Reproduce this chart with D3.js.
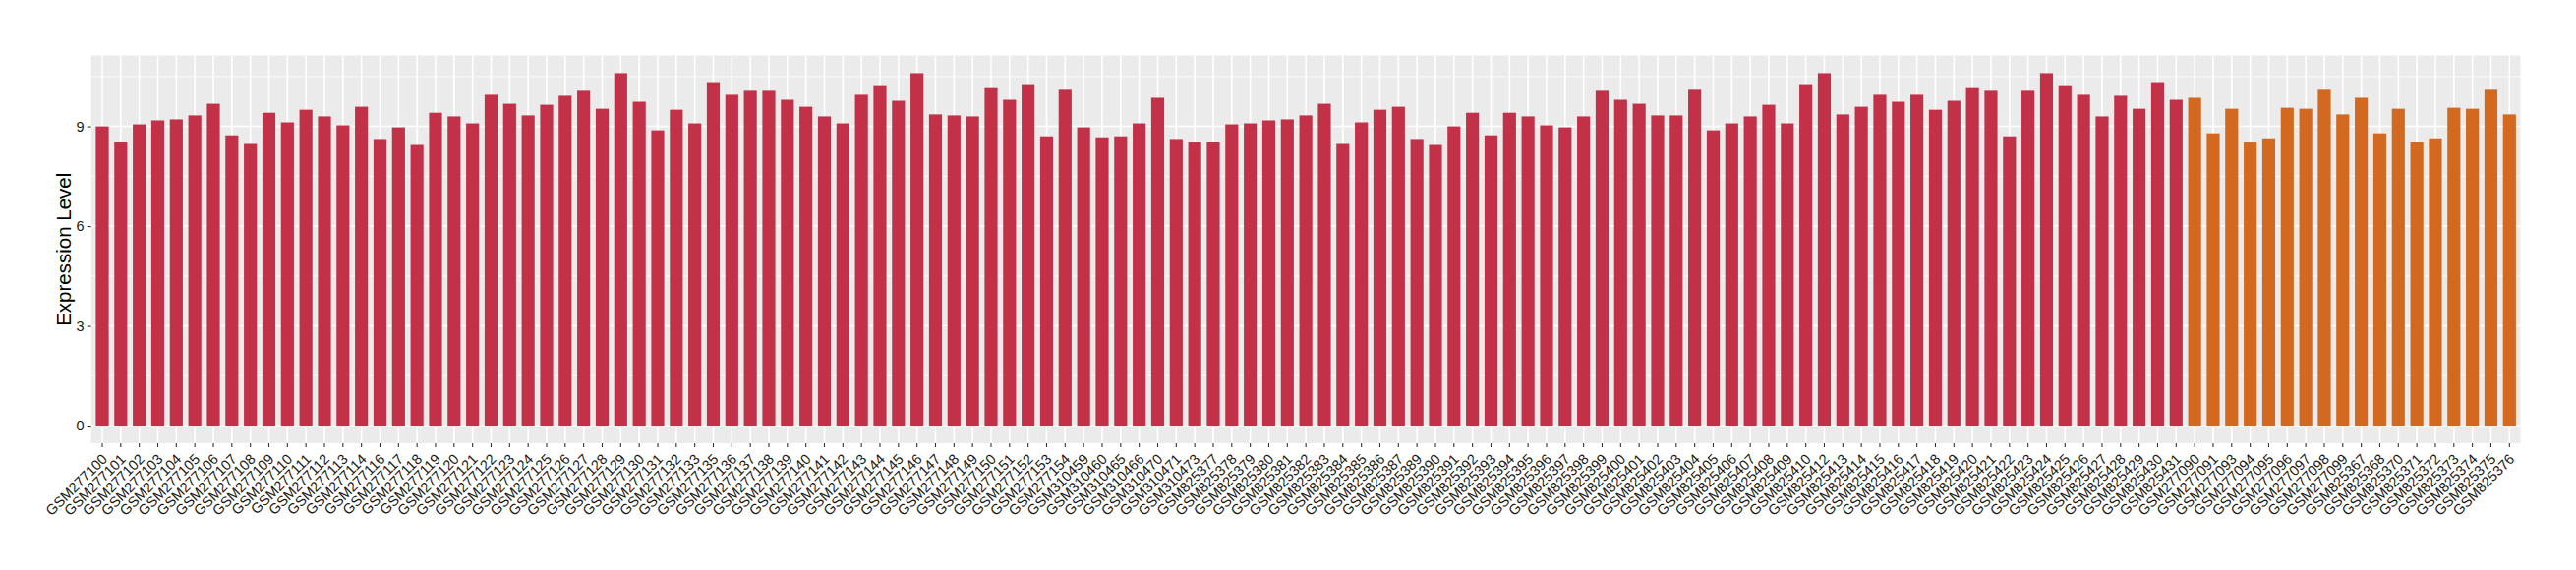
<!DOCTYPE html>
<html>
<head>
<meta charset="utf-8">
<script src="https://cdn.jsdelivr.net/npm/d3@7"></script>
<style>
  body { margin: 0; background: #fff; }
  #chart { width: 2620px; height: 580px; }
  text { font-family: "Liberation Sans", Arial, sans-serif; }
</style>
</head>
<body>
<div id="chart"></div>
<script>
// samples of the first group (red)
var groupASamples = [
	"GSM277100", "GSM277101", "GSM277102", "GSM277103", "GSM277104", "GSM277105", "GSM277106", "GSM277107",
	"GSM277108", "GSM277109", "GSM277110", "GSM277111", "GSM277112", "GSM277113", "GSM277114", "GSM277116",
	"GSM277117", "GSM277118", "GSM277119", "GSM277120", "GSM277121", "GSM277122", "GSM277123", "GSM277124",
	"GSM277125", "GSM277126", "GSM277127", "GSM277128", "GSM277129", "GSM277130", "GSM277131", "GSM277132",
	"GSM277133", "GSM277135", "GSM277136", "GSM277137", "GSM277138", "GSM277139", "GSM277140", "GSM277141",
	"GSM277142", "GSM277143", "GSM277144", "GSM277145", "GSM277146", "GSM277147", "GSM277148", "GSM277149",
	"GSM277150", "GSM277151", "GSM277152", "GSM277153", "GSM277154",
	"GSM310459", "GSM310460", "GSM310465", "GSM310466", "GSM310470", "GSM310471", "GSM310473",
	"GSM825377", "GSM825378", "GSM825379", "GSM825380", "GSM825381", "GSM825382", "GSM825383", "GSM825384",
	"GSM825385", "GSM825386", "GSM825387", "GSM825389", "GSM825390", "GSM825391", "GSM825392", "GSM825393",
	"GSM825394", "GSM825395", "GSM825396", "GSM825397", "GSM825398", "GSM825399", "GSM825400", "GSM825401",
	"GSM825402", "GSM825403", "GSM825404", "GSM825405", "GSM825406", "GSM825407", "GSM825408", "GSM825409",
	"GSM825410", "GSM825412", "GSM825413", "GSM825414", "GSM825415", "GSM825416", "GSM825417", "GSM825418",
	"GSM825419", "GSM825420", "GSM825421", "GSM825422", "GSM825423", "GSM825424", "GSM825425", "GSM825426",
	"GSM825427", "GSM825428", "GSM825429", "GSM825430", "GSM825431"
];
var groupAValues = [
	9.00, 8.53, 9.06, 9.18, 9.21, 9.33, 9.68, 8.73, 8.47, 9.41, 9.12, 9.50, 9.30, 9.03, 9.59, 8.62,
	8.97, 8.44, 9.41, 9.30, 9.09, 9.95, 9.68, 9.33, 9.65, 9.92, 10.07, 9.53, 10.60, 9.74, 8.88, 9.50,
	9.09, 10.33, 9.95, 10.07, 10.07, 9.80, 9.59, 9.30, 9.09, 9.95, 10.21, 9.77, 10.60, 9.36, 9.33, 9.30,
	10.15, 9.80, 10.27, 8.70, 10.10,
	8.97, 8.67, 8.70, 9.09, 9.86, 8.62, 8.53,
	8.53, 9.06, 9.09, 9.18, 9.21, 9.33, 9.68, 8.47, 9.12, 9.50, 9.59, 8.62, 8.44, 9.00, 9.41, 8.73,
	9.41, 9.30, 9.03, 8.97, 9.30, 10.07, 9.80, 9.68, 9.33, 9.33, 10.10, 8.88, 9.09, 9.30, 9.65, 9.09,
	10.27, 10.60, 9.36, 9.59, 9.95, 9.74, 9.95, 9.50, 9.77, 10.15, 10.07, 8.70, 10.07, 10.60, 10.21, 9.95,
	9.30, 9.92, 9.53, 10.33, 9.80
];

// samples of the second group (orange)
var groupBSamples = [
	"GSM277090", "GSM277091", "GSM277093", "GSM277094", "GSM277095", "GSM277096", "GSM277097", "GSM277098",
	"GSM277099", "GSM825367", "GSM825368", "GSM825370", "GSM825371", "GSM825372", "GSM825373", "GSM825374",
	"GSM825375", "GSM825376"
];
var groupBValues = [
	9.86, 8.79, 9.53, 8.53, 8.64, 9.56, 9.53, 10.10, 9.36, 9.86, 8.79, 9.53, 8.53, 8.64, 9.56, 9.53,
	10.10, 9.36
];

var yTicks = [0, 3, 6, 9];
var yMinorTicks = [1.5, 4.5, 7.5, 10.5];
var yTitle = "Expression Level";

var colors = { A: "#C33149", B: "#D3691F" };

var data = groupASamples.map(function (s, i) {
	return { sample: s, value: groupAValues[i], group: "A" };
}).concat(groupBSamples.map(function (s, i) {
	return { sample: s, value: groupBValues[i], group: "B" };
}));

var totalWidth = 2620;
var totalHeight = 580;
var margin = { top: 56.5, left: 92.7, bottom: 129, right: 56.4 };
var width = totalWidth - margin.left - margin.right;
var height = totalHeight - margin.top - margin.bottom;

var svg = d3.select("#chart").append("svg")
	.attr("width", totalWidth)
	.attr("height", totalHeight);

var mainGroup = svg.append("g")
	.attr("transform", "translate(" + margin.left + "," + margin.top + ")");

var xScale = d3.scaleBand()
	.domain(data.map(function (d) { return d.sample; }))
	.range([0, width])
	.paddingInner(0.3)
	.paddingOuter(0.25);

var yMax = d3.max(data, function (d) { return d.value; });
var yPad = yMax * 0.05;
var yScale = d3.scaleLinear()
	.domain([-yPad, yMax + yPad])
	.range([height, 0]);

// panel
mainGroup.append("rect")
	.attr("width", width)
	.attr("height", height)
	.attr("fill", "#EBEBEB");

// grid
mainGroup.selectAll(".minor")
	.data(yMinorTicks)
	.enter().append("line")
	.attr("x1", 0).attr("x2", width)
	.attr("y1", function (d) { return yScale(d); })
	.attr("y2", function (d) { return yScale(d); })
	.attr("stroke", "#fff").attr("stroke-width", 0.8);

mainGroup.selectAll(".major")
	.data(yTicks)
	.enter().append("line")
	.attr("x1", 0).attr("x2", width)
	.attr("y1", function (d) { return yScale(d); })
	.attr("y2", function (d) { return yScale(d); })
	.attr("stroke", "#fff").attr("stroke-width", 1.6);

mainGroup.selectAll(".vgrid")
	.data(xScale.domain())
	.enter().append("line")
	.attr("x1", function (d) { return xScale(d) + xScale.bandwidth() / 2; })
	.attr("x2", function (d) { return xScale(d) + xScale.bandwidth() / 2; })
	.attr("y1", 0).attr("y2", height)
	.attr("stroke", "#fff").attr("stroke-width", 1.6);

// bars
mainGroup.selectAll(".bar")
	.data(data)
	.enter().append("rect")
	.attr("x", function (d) { return xScale(d.sample); })
	.attr("y", function (d) { return yScale(d.value); })
	.attr("width", xScale.bandwidth())
	.attr("height", function (d) { return yScale(0) - yScale(d.value); })
	.attr("fill", function (d) { return colors[d.group]; });

// axes
var xAxis = d3.axisBottom(xScale).tickSizeOuter(0).tickSizeInner(4).tickPadding(2);
var yAxis = d3.axisLeft(yScale).tickValues(yTicks).tickSizeOuter(0).tickSizeInner(4).tickPadding(3);

mainGroup.append("g")
	.attr("transform", "translate(0," + height + ")")
	.call(xAxis)
	.call(function (g) {
		g.select(".domain").remove();
		g.selectAll(".tick line").attr("stroke", "#333").attr("stroke-width", 1.1);
		g.selectAll(".tick text")
			.attr("font-size", 14.5)
			.attr("fill", "#1a1a1a")
			.attr("text-anchor", "end")
			.attr("dy", 0)
			.attr("y", 0)
			.attr("transform", "translate(6,17) rotate(-45)");
	});

mainGroup.append("g")
	.call(yAxis)
	.call(function (g) {
		g.select(".domain").remove();
		g.selectAll(".tick line").attr("stroke", "#333").attr("stroke-width", 1.1);
		g.selectAll(".tick text")
			.attr("font-size", 14.5)
			.attr("fill", "#1a1a1a");
	});

svg.append("text")
	.attr("transform", "translate(72," + (margin.top + height / 2) + ") rotate(-90)")
	.attr("text-anchor", "middle")
	.attr("font-size", 20.5)
	.attr("fill", "#000")
	.text(yTitle);
</script>
</body>
</html>
